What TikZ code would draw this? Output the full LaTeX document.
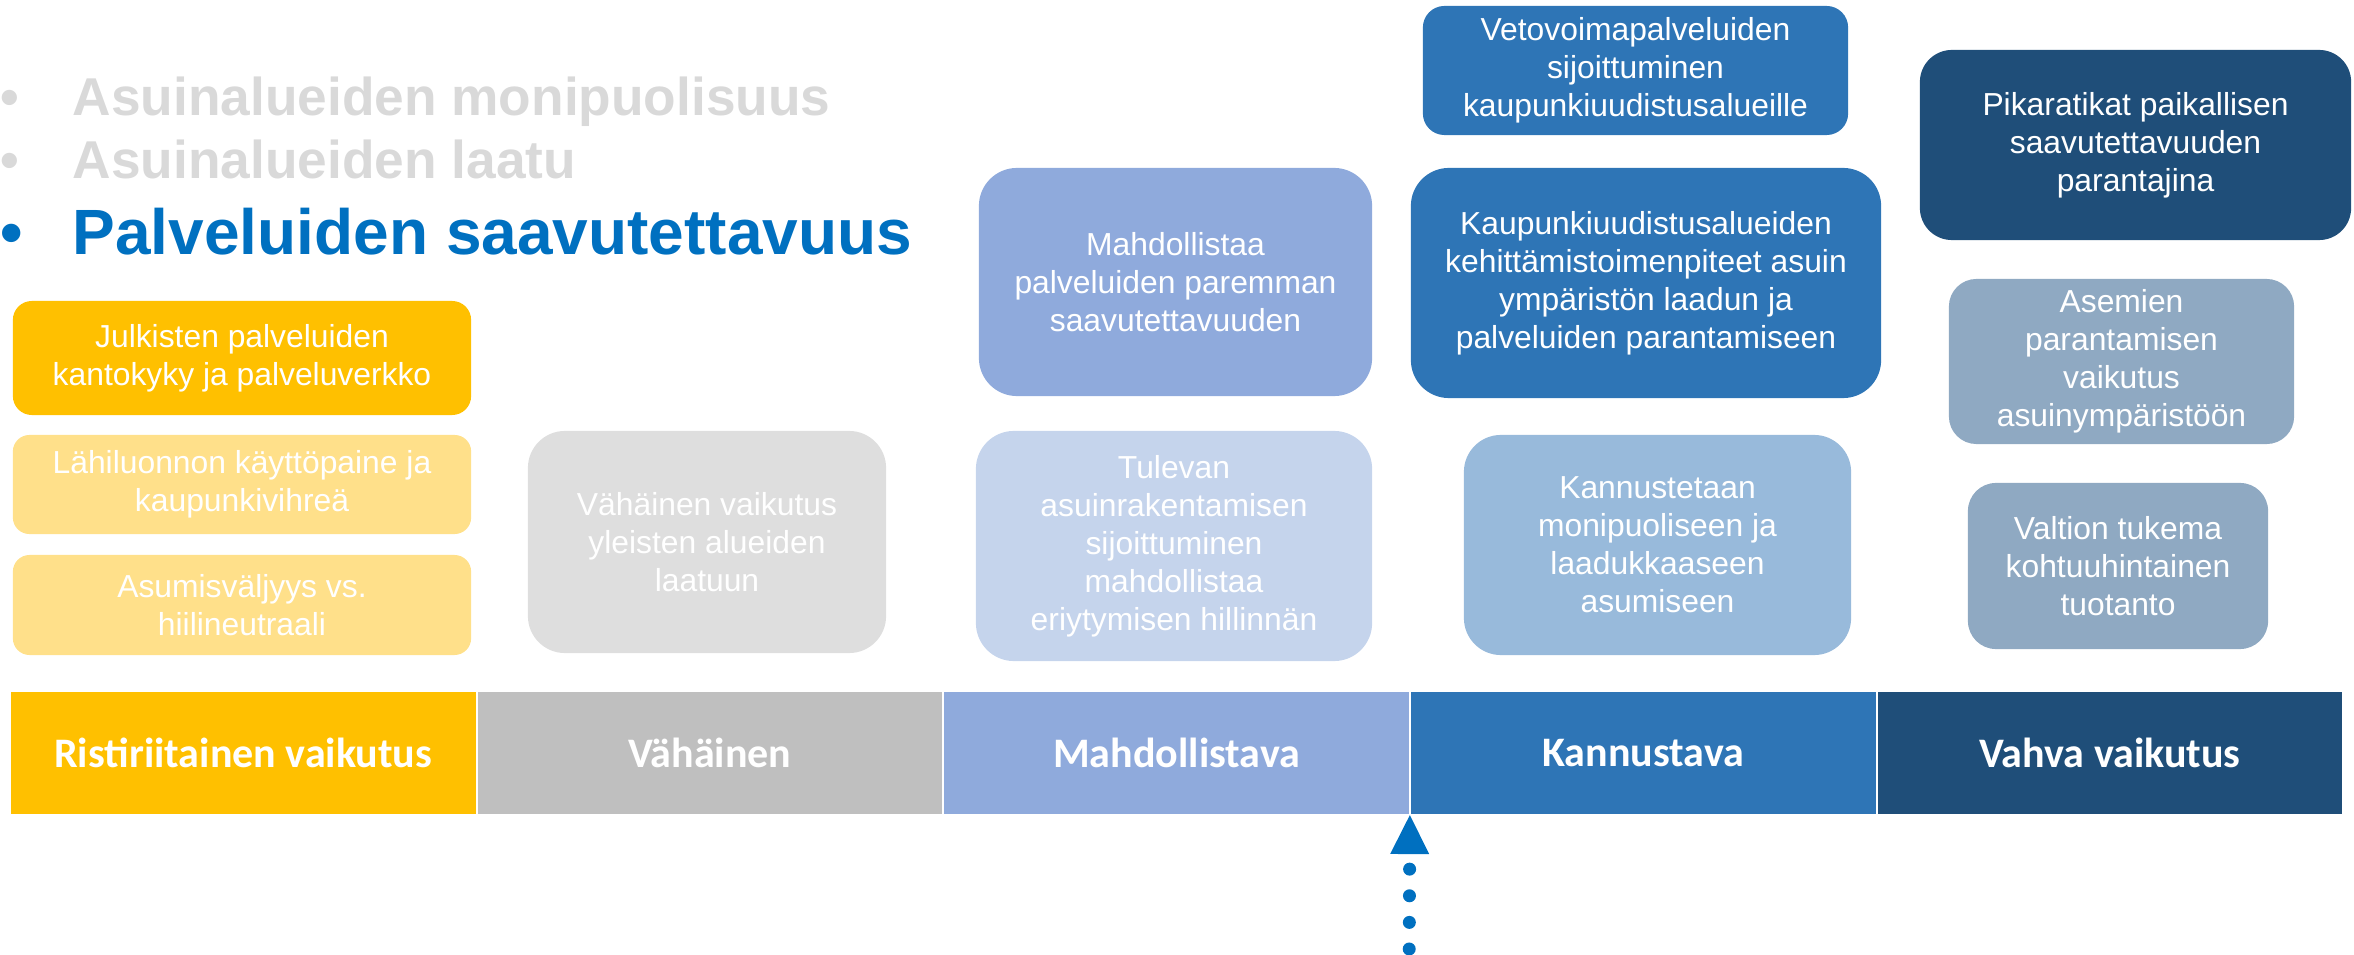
\documentclass[tikz,border=0pt]{standalone}
\usepackage{fontspec}
\setmainfont{Liberation Sans}
\newfontfamily\barfont{Carlito}
\usetikzlibrary{positioning}
\usetikzlibrary{arrows.meta}

\definecolor{gold}{HTML}{FFC000}
\definecolor{paleGold}{HTML}{FFE08A}
\definecolor{paleGrey}{HTML}{DEDEDE}
\definecolor{midGrey}{HTML}{BFBFBF}
\definecolor{softBlue}{HTML}{8FAADC}
\definecolor{paleBlue}{HTML}{C5D4EC}
\definecolor{oceanBlue}{HTML}{2E75B6}
\definecolor{skyBlue}{HTML}{98BADB}
\definecolor{navyBlue}{HTML}{1F4E79}
\definecolor{slateBlue}{HTML}{8FA9C2}
\definecolor{headGrey}{HTML}{D9D9D9}
\definecolor{headBlue}{HTML}{0070C0}

\begin{document}
\begin{tikzpicture}[x=0.01cm,y=-0.01cm]
	\tikzstyle{card}=[align=center,text=white,inner sep=0pt,font=\fontsize{9.05}{10.8}\selectfont]
	\tikzstyle{band}=[minimum width=4.664cm,minimum height=1.24cm,draw=white,line width=0.02cm,outer sep=0pt,text=white,font=\barfont\bfseries\fontsize{11.95}{14}\selectfont]
	\tikzstyle{topic}=[anchor=base west,inner sep=0pt,font=\bfseries\fontsize{15.15}{17}\selectfont]
	\useasboundingbox (0,0) rectangle (2354,955);

	% otsikot
	\node (dot1) [topic,text=headGrey] at (0,116) {•};
	\node (topic1) [topic,text=headGrey] at (72,116) {Asuinalueiden monipuolisuus};
	\node (dot2) [topic,text=headGrey] at (0,179) {•};
	\node (topic2) [topic,text=headGrey] at (72,179) {Asuinalueiden laatu};
	\node (dot3) [topic,text=headBlue,font=\bfseries\fontsize{18.2}{21}\selectfont] at (0,255) {•};
	\node (topic3) [topic,text=headBlue,font=\bfseries\fontsize{18.2}{21}\selectfont] at (72,255) {Palveluiden saavutettavuus};

	% laatikot
	\node (julkiset) [card,fill=gold,rounded corners=0.19cm,minimum width=4.58cm,minimum height=1.14cm] at (242,358) {Julkisten palveluiden\\kantokyky ja palveluverkko};
	\node (lahiluonto) [card,fill=paleGold,rounded corners=0.165cm,minimum width=4.58cm,minimum height=0.99cm] at (242,484.5) {Lähiluonnon käyttöpaine ja\\kaupunkivihreä};
	\node (valjyys) [card,fill=paleGold,rounded corners=0.167cm,minimum width=4.58cm,minimum height=1cm] at (242,605) {Asumisväljyys vs.\\hiilineutraali};
	\node (yleiset) [card,fill=paleGrey,rounded corners=0.37cm,minimum width=3.58cm,minimum height=2.22cm] at (707,542) {Vähäinen vaikutus\\yleisten alueiden\\laatuun};
	\node (paremmin) [card,fill=softBlue,rounded corners=0.38cm,minimum width=3.93cm,minimum height=2.28cm] at (1175.5,282) {Mahdollistaa\\palveluiden paremman\\saavutettavuuden};
	\node (tuleva) [card,fill=paleBlue,rounded corners=0.38cm,minimum width=3.96cm,minimum height=2.3cm] at (1174,546) {Tulevan\\asuinrakentamisen\\sijoittuminen\\mahdollistaa\\eriytymisen hillinnän};
	\node (vetovoima) [card,fill=oceanBlue,rounded corners=0.215cm,minimum width=4.25cm,minimum height=1.29cm] at (1635.5,70.5) {Vetovoimapalveluiden\\sijoittuminen\\kaupunkiuudistusalueille};
	\node (uudistus) [card,fill=oceanBlue,rounded corners=0.38cm,minimum width=4.7cm,minimum height=2.3cm] at (1646,283) {Kaupunkiuudistusalueiden\\kehittämistoimenpiteet asuin\\ympäristön laadun ja\\palveluiden parantamiseen};
	\node (kannustus) [card,fill=skyBlue,rounded corners=0.37cm,minimum width=3.87cm,minimum height=2.2cm] at (1657.5,545) {Kannustetaan\\monipuoliseen ja\\laadukkaaseen\\asumiseen};
	\node (pikaratikka) [card,fill=navyBlue,rounded corners=0.32cm,minimum width=4.31cm,minimum height=1.9cm] at (2135.5,145) {Pikaratikat paikallisen\\saavutettavuuden\\parantajina};
	\node (asemat) [card,fill=slateBlue,rounded corners=0.275cm,minimum width=3.45cm,minimum height=1.65cm] at (2121.5,361.5) {Asemien\\parantamisen\\vaikutus\\asuinympäristöön};
	\node (valtio) [card,fill=slateBlue,rounded corners=0.28cm,minimum width=3cm,minimum height=1.66cm] at (2118,566) {Valtion tukema\\kohtuuhintainen\\tuotanto};

	% asteikko
	\node (ristiriita) [band,fill=gold] at (243.2,753) {Ristiriitainen vaikutus};
	\node (vahainen) [band,fill=midGrey,right=0pt of ristiriita] {Vähäinen};
	\node (mahdollistava) [band,fill=softBlue,right=0pt of vahainen] {Mahdollistava};
	\node (kannustava) [band,fill=oceanBlue,right=0pt of mahdollistava] {Kannustava};
	\node (vahva) [band,fill=navyBlue,right=0pt of kannustava] {Vahva vaikutus};

	\coordinate (osoitin) at (1409.2,949);
	\draw[headBlue,line width=0.13cm,line cap=round,dash pattern=on 0pt off 0.266cm,-{Triangle[width=0.39cm,length=0.39cm,line width=0pt]}] (osoitin) -- (mahdollistava.south east);
\end{tikzpicture}
\end{document}
